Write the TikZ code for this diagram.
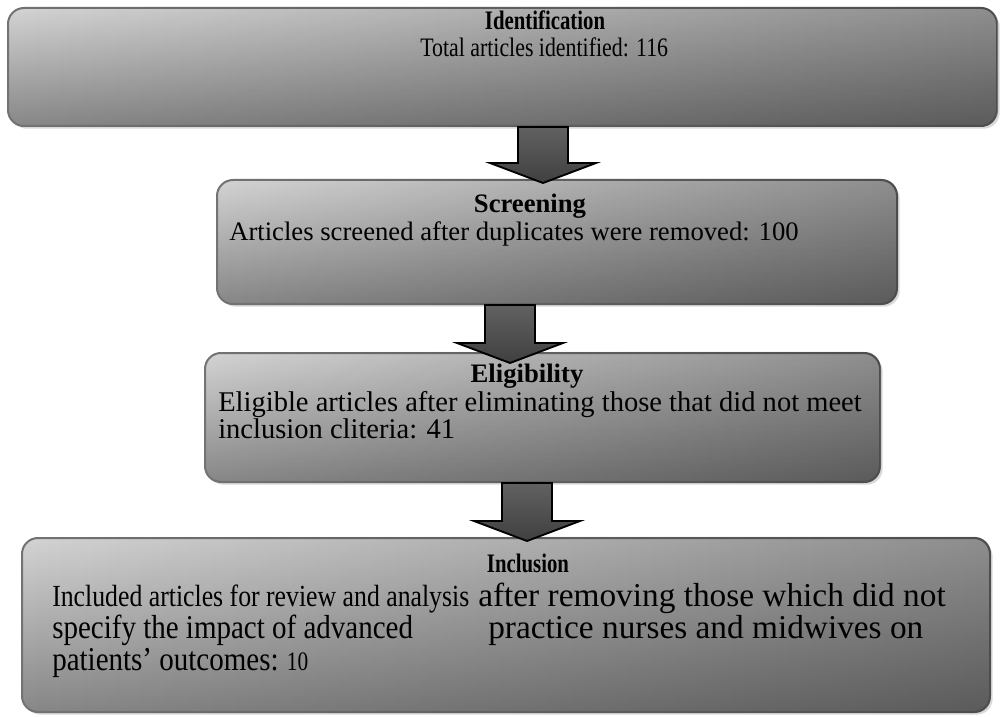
\documentclass[tikz,border=0pt]{standalone}
\usepackage{fontspec}
\setmainfont{Liberation Serif}
\usepackage{graphicx}
\usetikzlibrary{fit,shadows,fadings,positioning}

\begin{document}
\begin{tikzpicture}
[x=0.75pt, y=-0.75pt,
  boxDecorate/.style={rectangle, rounded corners=12pt, inner sep=0pt,
    draw=black!55, line width=1.5pt,
    top color=black!17, bottom color=black!47,
    drop shadow={shadow xshift=2pt, shadow yshift=-2pt, opacity=0.3}},
  darkDecorate/.style={fill=black, fill opacity=0.33, path fading=west, rounded corners=12pt},
  arrowDecorate/.style={draw=black, line width=1.4pt, line join=miter,
    top color=black!62, middle color=black, bottom color=black!75},
  titleDecorate/.style={anchor=base, inner sep=0pt, font=\bfseries\fontsize{20}{24}\selectfont},
  textDecorate/.style={anchor=base west, inner sep=0pt, font=\fontsize{20}{24}\selectfont},
  bigDecorate/.style={anchor=base west, inner sep=0pt, font=\fontsize{25}{30}\selectfont}]

\useasboundingbox (0,0) rectangle (1001,717);

%% boxes
\foreach \boxname/\xa/\ya/\xb/\yb in {
  ident/8/8/997/126,
  screen/217/180/897/304,
  elig/205/353/880/482,
  incl/22/538/990/712}
{
  \node[boxDecorate, fit={(\xa,\ya) (\xb,\yb)}] (\boxname) {};
  \fill[darkDecorate] (\boxname.north west) rectangle (\boxname.south east);
}

%% arrows between the boxes
\foreach \arrowname/\startbox/\x/\stem in {
  arrowA/ident/543/36,
  arrowB/screen/510/38,
  arrowC/elig/527/38}
{
  \draw[arrowDecorate] (\x,0 |- \startbox.south) ++(-25,0) -- ++(0,\stem)
    -- ++(-28,0) -- ++(53,20) coordinate (\arrowname) -- ++(53,-20)
    -- ++(-28,0) -- ++(0,-\stem) -- cycle;
}

%% texts
\node[titleDecorate] (identTitle) at (545,30) {\scalebox{0.78}[1]{Identification}};
\node[textDecorate] (identText) at (420,57) {\scalebox{0.82}[1]{Total articles identified: 116}};

\node[titleDecorate] (screenTitle) at (530,213) {Screening};
\node[textDecorate] (screenText) at (229,240) {Articles screened after duplicates were removed: 100};

\node[titleDecorate] (eligTitle) at (527,382) {Eligibility};
\node[textDecorate, font=\fontsize{21.4}{25}\selectfont] (eligTextA) at (218,411) {Eligible articles after eliminating those that did not meet};
\node[textDecorate, font=\fontsize{21.4}{25}\selectfont] (eligTextB) at (218,438) {inclusion cliteria: 41};

\node[titleDecorate] (inclTitle) at (528,572) {\scalebox{0.78}[1]{Inclusion}};
\node[bigDecorate] (inclTextA) at (52,606) {\fontsize{23}{26}\selectfont\scalebox{0.84}[1]{Included articles for review and analysis}};
\node[bigDecorate] (inclTextB) at (52,638) {\scalebox{0.87}[1]{specify the impact of advanced}};
\node[bigDecorate] (inclTextC) at (52,670) {\scalebox{0.87}[1]{patients’ outcomes:} {\fontsize{20}{24}\selectfont\scalebox{0.8}[1]{10}}};
\node[bigDecorate] (inclTextD) at (478,606) {after removing those which did not};
\node[bigDecorate] (inclTextE) at (488,638) {practice nurses and midwives on};
\end{tikzpicture}
\end{document}
